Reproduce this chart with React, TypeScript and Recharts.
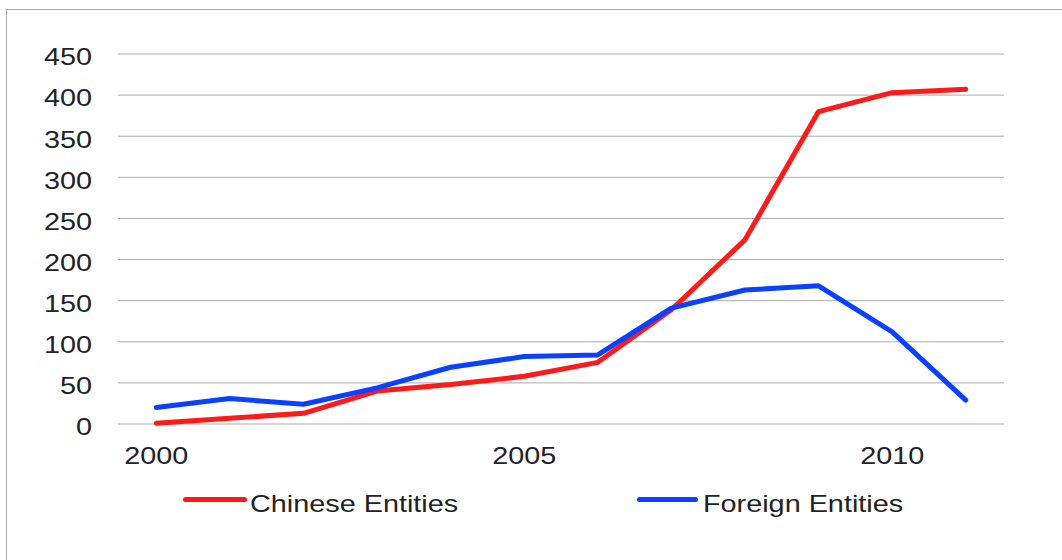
import { LineChart, Line, XAxis, YAxis, CartesianGrid } from 'recharts';

const years = [2000, 2001, 2002, 2003, 2004, 2005, 2006, 2007, 2008, 2009, 2010, 2011];
const chineseEntities = [1, 7, 13, 40, 48, 58, 75, 139, 224, 380, 403, 407];
const foreignEntities = [20, 31, 24, 44, 69, 82, 84, 141, 163, 168, 112, 29];
const yTicks = [0, 50, 100, 150, 200, 250, 300, 350, 400, 450];
const xTicks = [2000, 2005, 2010];

const data = years.map((year, i) => ({
  year,
  chinese: chineseEntities[i],
  foreign: foreignEntities[i],
}));

const FONT = '"Liberation Sans", Arial, sans-serif';
const TEXT_COLOR = '#222';
const RED = '#ff1a1a';
const BLUE = '#0a40ff';

function YTick({ x, y, payload }: any) {
  return (
    <g transform={`translate(${x},${y})`}>
      <text transform="scale(1.2,1)" textAnchor="end" dy="0.47em" fontSize={24} fontFamily={FONT} fill={TEXT_COLOR}>
        {payload.value}
      </text>
    </g>
  );
}

function XTick({ x, y, payload }: any) {
  return (
    <g transform={`translate(${x},${y})`}>
      <text transform="scale(1.2,1)" textAnchor="middle" fontSize={24} fontFamily={FONT} fill={TEXT_COLOR}>
        {payload.value}
      </text>
    </g>
  );
}

const legendText = {
  position: 'absolute' as const,
  top: 492,
  fontFamily: FONT,
  fontSize: 24,
  lineHeight: '24px',
  color: TEXT_COLOR,
  transform: 'scaleX(1.2)',
  transformOrigin: 'left center',
  whiteSpace: 'nowrap' as const,
};

export default function App() {
  return (
    <div style={{ position: 'absolute', left: 0, top: 0, width: 1062, height: 560, overflow: 'hidden', background: '#fff' }}>
      <div style={{ position: 'absolute', left: 6, top: 9, width: 1100, height: 600, border: '1px solid #a6a6a6' }} />
      <div style={{ position: 'absolute', left: 0, top: 0 }}>
        <LineChart width={1062} height={560} data={data} margin={{ top: 54, right: 58, bottom: 76, left: 0 }}>
          <CartesianGrid vertical={false} stroke="#aaa" strokeWidth={1} />
          <XAxis
            dataKey="year"
            type="number"
            domain={[1999.48, 2011.52]}
            ticks={xTicks}
            axisLine={false}
            tickLine={false}
            tickSize={0}
            tickMargin={40}
            height={60}
            tick={<XTick />}
          />
          <YAxis
            domain={[0, 450]}
            ticks={yTicks}
            axisLine={false}
            tickLine={false}
            tickSize={0}
            tickMargin={26}
            width={118}
            tick={<YTick />}
          />
          <Line
            dataKey="chinese"
            stroke={RED}
            strokeWidth={5}
            strokeLinecap="round"
            strokeLinejoin="round"
            dot={false}
            isAnimationActive={false}
          />
          <Line
            dataKey="foreign"
            stroke={BLUE}
            strokeWidth={5}
            strokeLinecap="round"
            strokeLinejoin="round"
            dot={false}
            isAnimationActive={false}
          />
        </LineChart>
      </div>
      <div style={{ position: 'absolute', left: 183, top: 496.5, width: 64, height: 5, borderRadius: 3, background: RED }} />
      <div style={{ ...legendText, left: 250 }}>Chinese Entities</div>
      <div style={{ position: 'absolute', left: 637, top: 496.5, width: 61, height: 5, borderRadius: 3, background: BLUE }} />
      <div style={{ ...legendText, left: 703 }}>Foreign Entities</div>
    </div>
  );
}
